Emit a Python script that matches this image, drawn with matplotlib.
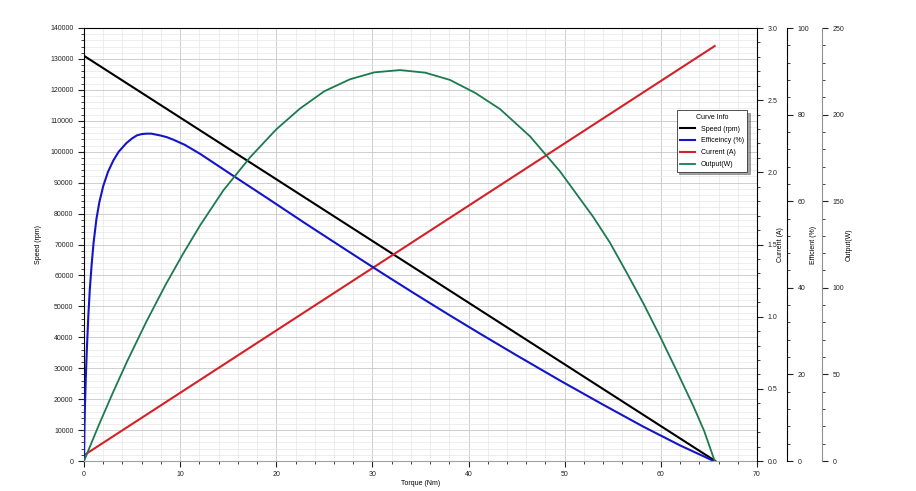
import numpy as np
import matplotlib
matplotlib.use('Agg')
import matplotlib.pyplot as plt
from matplotlib.ticker import MultipleLocator

plt.rcParams['font.family'] = ['Liberation Sans', 'DejaVu Sans']
plt.rcParams['font.size'] = 5

# values
speed_torque = [0.0, 65.66]
speed_rpm = [131000, 0]

current_torque = [0.0, 65.6]
current_a = [0.04, 2.875]

eff_torque = [0.0, 0.05, 0.1, 0.2, 0.3, 0.45, 0.6, 0.8, 1.0, 1.3, 1.6, 2.0,
              2.5, 3.05, 3.6, 4.4, 5.0, 5.5, 6.0, 6.5, 7.0, 7.9, 8.6, 9.3,
              10.5, 12.1, 15.5, 19.0, 23.0, 27.3, 31.0, 34.5, 38.0, 41.2,
              45.0, 49.5, 54.0, 58.2, 62.0, 65.5]
eff_pct = [0.0, 8.0, 13.0, 20.0, 26.0, 33.5, 39.5, 45.5, 50.5, 56.0, 59.8, 63.5,
           66.8, 69.4, 71.4, 73.4, 74.5, 75.2, 75.5, 75.6, 75.6, 75.2, 74.8, 74.2,
           73.0, 70.9, 65.9, 60.8, 54.9, 48.7, 43.4, 38.5, 33.7, 29.4,
           24.4, 18.6, 13.0, 7.9, 3.6, 0.0]

out_torque = [0.0, 1.5, 3.0, 4.5, 6.5, 8.5, 10.3, 12.07, 14.5, 17.27, 20.0,
              22.47, 25.0, 27.67, 30.2, 32.87, 35.5, 38.07, 40.7, 43.27,
              46.4, 49.51, 52.98, 54.7, 56.45, 58.2, 59.9, 61.6, 63.38,
              64.5, 65.6]
out_w = [0.0, 20.2, 39.4, 57.7, 80.6, 101.9, 119.6, 136.0, 156.3, 175.3, 191.5,
         203.5, 213.5, 220.4, 224.4, 225.7, 224.2, 220.0, 212.5, 203.2,
         187.4, 167.2, 140.8, 126.1, 108.7, 90.8, 72.1, 52.6, 31.7,
         17.4, 0.0]

fig = plt.figure(figsize=(9.16, 4.91), dpi=100)
ax = fig.add_axes([84/916, 30/491, 673/916, 433/491])

ax.set_xlim(0, 70)
ax.set_ylim(0, 140000)
ax.xaxis.set_major_locator(MultipleLocator(10))
ax.xaxis.set_minor_locator(MultipleLocator(2))
ax.yaxis.set_major_locator(MultipleLocator(10000))
ax.yaxis.set_minor_locator(MultipleLocator(2000))
ax.grid(which='major', color='#c8c8c8', lw=0.6)
ax.grid(which='minor', color='#e8e8e8', lw=0.5)
ax.set_axisbelow(True)
ax.tick_params(which='both', direction='out', colors='#222222', labelsize=5)
ax.tick_params(which='major', length=4)
ax.tick_params(which='minor', length=2)
ax.spines['bottom'].set_color('#a0a0a0')
ax.spines['top'].set_color('black')
ax.spines['left'].set_color('black')
ax.spines['right'].set_visible(False)
ax.set_xlabel('Torque (Nm)', fontsize=5, labelpad=1)
ax.set_ylabel('Speed (rpm)', fontsize=5, labelpad=6)

l1, = ax.plot(speed_torque, speed_rpm, color='black', lw=1.5, label='Speed (rpm)')

ax_cur = ax.twinx()
ax_cur.set_ylim(0, 3.0)
ax_cur.yaxis.set_major_locator(MultipleLocator(0.5))
ax_cur.yaxis.set_minor_locator(MultipleLocator(0.1))
ax_cur.yaxis.set_major_formatter(lambda v, p: '%.1f' % v)
ax_cur.tick_params(which='both', direction='out', colors='#222222', labelsize=5)
ax_cur.tick_params(which='major', length=4)
ax_cur.tick_params(which='minor', length=2)
ax_cur.spines['right'].set_color('black')
for s in ['top', 'left', 'bottom']:
    ax_cur.spines[s].set_visible(False)
ax_cur.set_ylabel('Current (A)', fontsize=5, labelpad=0)

# spine offsets are in points: 30 px and 65 px at 100 dpi
ax_eff = ax.twinx()
ax_eff.spines['right'].set_position(('outward', 21.6))
ax_eff.set_ylim(0, 100)
ax_eff.yaxis.set_major_locator(MultipleLocator(20))
ax_eff.yaxis.set_minor_locator(MultipleLocator(4))
ax_eff.tick_params(which='both', direction='out', colors='#222222', labelsize=5)
ax_eff.tick_params(which='major', length=4)
ax_eff.tick_params(which='minor', length=2)
ax_eff.spines['right'].set_color('black')
for s in ['top', 'left', 'bottom']:
    ax_eff.spines[s].set_visible(False)
ax_eff.set_ylabel('Efficient (%)', fontsize=5, labelpad=1)

ax_out = ax.twinx()
ax_out.spines['right'].set_position(('outward', 46.8))
ax_out.set_ylim(0, 250)
ax_out.yaxis.set_major_locator(MultipleLocator(50))
ax_out.yaxis.set_minor_locator(MultipleLocator(10))
ax_out.tick_params(which='both', direction='out', colors='#222222', labelsize=5)
ax_out.tick_params(which='major', length=4)
ax_out.tick_params(which='minor', length=2)
ax_out.spines['right'].set_color('#909090')
for s in ['top', 'left', 'bottom']:
    ax_out.spines[s].set_visible(False)
ax_out.set_ylabel('Output(W)', fontsize=5, labelpad=1)

l2, = ax_eff.plot(eff_torque, eff_pct, color='#1414c8', lw=1.5, label='Efficeincy (%)')
l3, = ax_cur.plot(current_torque, current_a, color='#d42028', lw=1.5, label='Current (A)')
l4, = ax_out.plot(out_torque, out_w, color='#1c7a4e', lw=1.3, label='Output(W)')

leg = ax_out.legend(handles=[l1, l2, l3, l4], title='Curve Info', loc='upper right',
                    bbox_to_anchor=(0.991, 0.818), fontsize=5, title_fontsize=5,
                    fancybox=False, shadow=True, framealpha=1, edgecolor='#333333',
                    handlelength=2.2, borderpad=0.5, labelspacing=0.7)
leg.get_frame().set_linewidth(0.6)

fig.savefig('out.png', dpi=100)
